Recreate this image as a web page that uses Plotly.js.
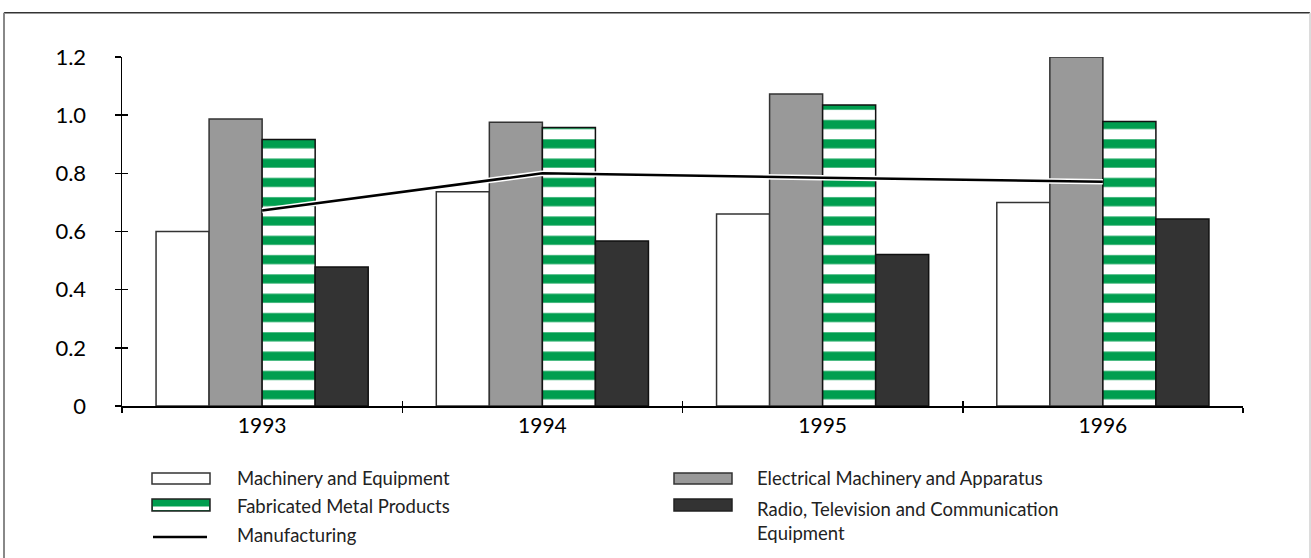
<!DOCTYPE html>
<html>
<head>
<meta charset="utf-8">
<script src="https://cdn.plot.ly/plotly-3.0.1.min.js"></script>
<style>
  html, body { margin: 0; padding: 0; background: #fff; }
  #chart { width: 1311px; height: 558px; }
</style>
</head>
<body>
<div id="chart"></div>
<script>
// ---- data ----
const years = ['1993', '1994', '1995', '1996'];
const machinery = [0.60, 0.737, 0.66, 0.70];
const electrical = [0.987, 0.976, 1.073, 1.20];
const fabricated = [0.916, 0.958, 1.035, 0.978];
const radio = [0.478, 0.567, 0.521, 0.643];
const manufacturing = [0.672, 0.80, 0.785, 0.771];
const yTickVals = [0, 0.2, 0.4, 0.6, 0.8, 1.0, 1.2];
const yTickText = ['0', '0.2', '0.4', '0.6', '0.8', '1.0', '1.2'];

// ---- styles ----
const GREEN = '#009e4f';
const FONT = 'Lato, "Open Sans", sans-serif';
const W = 1311, H = 558;
const M = { l: 122, r: 68, t: 57, b: 152 };
const plotW = W - M.l - M.r, plotH = H - M.t - M.b;
const px = x => (x - M.l) / plotW;
const py = y => (H - M.b - y) / plotH;

const xi = years.map((_, i) => i);
const bounds = [-0.5].concat(xi.map(i => i + 0.5));

const traces = [
  { type: 'bar', name: 'Machinery and Equipment', x: xi, y: machinery,
    marker: { color: '#ffffff', line: { color: '#333333', width: 1.5 } } },
  { type: 'bar', name: 'Electrical Machinery and Apparatus', x: xi, y: electrical,
    marker: { color: '#999999', line: { color: '#333333', width: 1.5 } } },
  { type: 'bar', name: 'Fabricated Metal Products', x: xi, y: fabricated,
    marker: { color: '#ffffff', line: { color: '#111111', width: 1.5 },
      pattern: { shape: '-', fgcolor: GREEN, bgcolor: '#ffffff', size: 19.3, solidity: 0.47, fillmode: 'replace' } } },
  { type: 'bar', name: 'Radio, Television and Communication Equipment', x: xi, y: radio,
    marker: { color: '#333333', line: { color: '#111111', width: 1.5 } } },
  { type: 'scatter', mode: 'lines', name: 'Manufacturing outline', x: xi, y: manufacturing,
    line: { color: '#ffffff', width: 5.5 }, hoverinfo: 'skip' },
  { type: 'scatter', mode: 'lines', name: 'Manufacturing', x: xi, y: manufacturing,
    line: { color: '#000000', width: 2.5 } },
  // carrier for the overlay axes that draw the inner half of the crossing ticks
  { type: 'scatter', mode: 'lines', x: xi, y: manufacturing, xaxis: 'x2', yaxis: 'y2',
    opacity: 0, line: { width: 0 }, hoverinfo: 'skip' }
];
traces.forEach(t => t.showlegend = false);

// ---- custom legend (wide swatches like the reference) ----
const shapes = [];
const annotations = [];
function box(x0, x1, y0, y1, fill, lineColor) {
  shapes.push({ type: 'rect', xref: 'paper', yref: 'paper',
    x0: px(x0), x1: px(x1), y0: py(y1), y1: py(y0),
    fillcolor: fill, line: { color: lineColor, width: 1.5 } });
}
function label(x, y, text, anchor) {
  annotations.push({ xref: 'paper', yref: 'paper', x: px(x), y: py(y),
    xanchor: 'left', yanchor: anchor || 'middle', align: 'left', showarrow: false,
    text: text, font: { family: FONT, size: 18.5, color: '#222222' } });
}
// column 1
box(152, 210, 473, 484, '#ffffff', '#333333');
label(235, 478, traces[0].name);
box(152, 210, 499, 511, GREEN, '#222222');
shapes.push({ type: 'rect', xref: 'paper', yref: 'paper', x0: px(153), x1: px(209), y0: py(510), y1: py(506.5),
  fillcolor: '#ffffff', line: { width: 0 } });
label(235, 506, traces[2].name);
shapes.push({ type: 'line', xref: 'paper', yref: 'paper', x0: px(153), x1: px(207), y0: py(537), y1: py(537),
  line: { color: '#000000', width: 2.5 } });
label(235, 535, 'Manufacturing');
// column 2
box(674, 732, 473, 484, '#999999', '#333333');
label(755, 478, traces[1].name);
box(674, 732, 499, 511, '#333333', '#222222');
label(755, 496, 'Radio, Television and Communication<br>Equipment', 'top');

// ---- outer frame ----
const fx0 = px(4), fx1 = px(1310), fy0 = py(565), fy1 = py(12.7);
shapes.push({ type: 'line', xref: 'paper', yref: 'paper', x0: fx0, x1: fx1, y0: fy1, y1: fy1, line: { color: '#333333', width: 1.5 } });
shapes.push({ type: 'line', xref: 'paper', yref: 'paper', x0: fx0, x1: fx0, y0: fy0, y1: fy1, line: { color: '#888888', width: 2 } });
shapes.push({ type: 'line', xref: 'paper', yref: 'paper', x0: fx1, x1: fx1, y0: fy0, y1: fy1, line: { color: '#d0d0d0', width: 1.5 } });

const layout = {
  width: W, height: H,
  margin: M,
  paper_bgcolor: '#ffffff', plot_bgcolor: '#ffffff',
  barmode: 'group', bargap: 0.243, bargroupgap: 0,
  showlegend: false,
  font: { family: FONT, color: '#000000' },
  xaxis: {
    range: [-0.5, 3.5], tickmode: 'array', tickvals: xi, ticktext: years,
    ticks: '', showgrid: false, zeroline: false,
    showline: true, linecolor: '#000000', linewidth: 1.5,
    tickfont: { family: FONT, size: 21, color: '#000000' },
    minor: { tickmode: 'array', tickvals: bounds, ticks: 'outside', ticklen: 5, tickwidth: 1.5, tickcolor: '#000000', showgrid: false },
    fixedrange: true
  },
  yaxis: {
    range: [0, 1.2], tickmode: 'array', tickvals: yTickVals, ticktext: yTickText,
    ticks: 'outside', ticklen: 6, tickwidth: 1.5, tickcolor: '#000000',
    showgrid: false, zeroline: false,
    showline: true, linecolor: '#000000', linewidth: 1.5,
    tickfont: { family: FONT, size: 22, color: '#000000' },
    ticklabelstandoff: 24,
    fixedrange: true
  },
  xaxis2: {
    overlaying: 'x', anchor: 'y2', range: [-0.5, 3.5], tickmode: 'array', tickvals: bounds,
    ticks: 'inside', ticklen: 5, tickwidth: 1.5, tickcolor: '#000000',
    showticklabels: false, showgrid: false, zeroline: false, showline: false, side: 'bottom', fixedrange: true
  },
  yaxis2: {
    overlaying: 'y', anchor: 'x2', range: [0, 1.2], tickmode: 'array', tickvals: yTickVals,
    ticks: 'inside', ticklen: 6, tickwidth: 1.5, tickcolor: '#000000',
    showticklabels: false, showgrid: false, zeroline: false, showline: false, side: 'left', fixedrange: true
  },
  shapes: shapes,
  annotations: annotations
};

Plotly.newPlot('chart', traces, layout, { displayModeBar: false, staticPlot: true });
</script>
</body>
</html>
